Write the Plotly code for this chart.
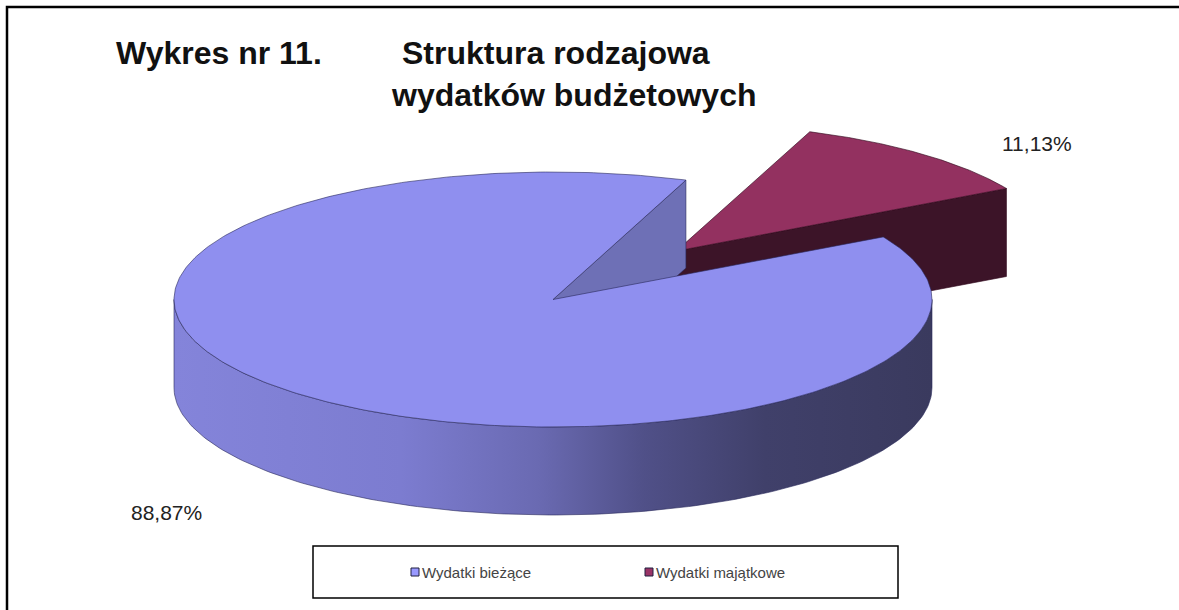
import numpy as np
import plotly.graph_objects as go

# ---------------- data ----------------
categories = ["Wydatki bieżące", "Wydatki majątkowe"]
values = [88.87, 11.13]
label_texts = [f"{v:.2f}".replace(".", ",") + "%" for v in values]

# ---------------- styles / layout ----------------
top_colors = ["#8F8FEF", "#933160"]
radial_colors = ["#6E70B6", "#3C1428"]
side_scales = [
    [[0.0, "#8484DA"], [0.3, "#7C7CD0"], [0.48, "#6A6AB2"], [0.62, "#505088"],
     [0.78, "#40406A"], [1.0, "#3A3A5E"]],
    [[0.0, "#5A1E3A"], [1.0, "#3C1428"]],
]
legend_colors = ["#9999FF", "#993366"]
edge_colors = ["rgba(40,40,90,0.75)", "rgba(50,10,30,0.8)"]

CX, CY = 553.0, 299.5      # centre of top ellipse (pixels)
RX, RY = 379.0, 127.5      # ellipse radii
DEPTH = 88.0               # thickness of the pie
START_DEG = 29.4           # first slice starts here, drawn clockwise
EXPLODE = [0.0, 0.5]

W, H = 1179, 610

fig = go.Figure()


def pt(t, off, r=1.0, h=0.0):
    return (CX + off[0] + RX * r * np.cos(t), CY + off[1] - RY * r * np.sin(t) + h)


total = sum(values)
slices = []
a = np.radians(START_DEG)
for i, v in enumerate(values):
    span = 2 * np.pi * v / total
    t1, t2 = a, a - span
    mid = (t1 + t2) / 2
    off = (EXPLODE[i] * RX * np.cos(mid), -EXPLODE[i] * RY * np.sin(mid))
    slices.append((i, t1, t2, mid, off))
    a = t2

# back to front
slices.sort(key=lambda s: -np.sin(s[3]))

for i, t1, t2, mid, off in slices:
    ec = edge_colors[i]
    # radial faces
    for t, visible in ((t1, np.cos(t1) < 0), (t2, np.cos(t2) > 0)):
        if not visible:
            continue
        p0 = pt(t, off, r=0.0)
        p1 = pt(t, off)
        xs = [p0[0], p1[0], p1[0], p0[0], p0[0]]
        ys = [p0[1], p1[1], p1[1] + DEPTH, p0[1] + DEPTH, p0[1]]
        fig.add_trace(go.Scatter(x=xs, y=ys, mode="lines", fill="toself",
                                 fillcolor=radial_colors[i],
                                 line=dict(color=ec, width=0.8),
                                 hoverinfo="skip", showlegend=False))
    # outer side: visible where sin(t) < 0
    lo, hi = t2, t1
    k = np.floor(lo / (2 * np.pi)) - 1
    segs = []
    while True:
        s0 = -np.pi + 2 * np.pi * k
        s1 = 0.0 + 2 * np.pi * k
        if s0 > hi:
            break
        a0, a1 = max(lo, s0), min(hi, s1)
        if a1 > a0:
            segs.append((a0, a1))
        k += 1
    for a0, a1 in segs:
        tt = np.linspace(a0, a1, 160)
        xt, yt = pt(tt, off)
        xb, yb = pt(tt[::-1], off, h=DEPTH)
        xs = np.concatenate([xt, xb, xt[:1]])
        ys = np.concatenate([yt, yb, yt[:1]])
        fig.add_trace(go.Scatter(x=xs, y=ys, mode="lines", fill="toself",
                                 fillgradient=dict(type="horizontal",
                                                   colorscale=side_scales[i],
                                                   start=CX - RX, stop=CX + RX),
                                 line=dict(color=ec, width=0.8),
                                 hoverinfo="skip", showlegend=False))
    # top face
    tt = np.linspace(t1, t2, 400)
    xa, ya = pt(tt, off)
    c = pt(0.0, off, r=0.0)
    xs = np.concatenate([[c[0]], xa, [c[0]]])
    ys = np.concatenate([[c[1]], ya, [c[1]]])
    fig.add_trace(go.Scatter(x=xs, y=ys, mode="lines", fill="toself",
                             fillcolor=top_colors[i],
                             line=dict(color=ec, width=0.8),
                             name=categories[i], text=label_texts[i],
                             hoverinfo="name+text", showlegend=False))

# percentage labels
label_pos = [(166, 512), (1037, 143)]
for txt, (lx, ly) in zip(label_texts, label_pos):
    fig.add_annotation(x=lx, y=ly, text=txt, showarrow=False,
                       font=dict(family="Liberation Sans, Arial", size=21, color="#222222"),
                       xanchor="center", yanchor="middle")

# titles
title_font = dict(family="Liberation Sans, Arial", size=32, color="#111111")
fig.add_annotation(x=114, y=53, text="<b>Wykres nr 11.</b>", showarrow=False,
                   xanchor="left", yanchor="middle", font=title_font)
fig.add_annotation(x=400, y=53, text="<b>Struktura rodzajowa</b>", showarrow=False,
                   xanchor="left", yanchor="middle", font=title_font)
fig.add_annotation(x=389, y=95, text="<b>wydatków budżetowych</b>", showarrow=False,
                   xanchor="left", yanchor="middle", font=title_font)

# legend (drawn)
shapes = [
    dict(type="rect", xref="x", yref="y", x0=7, y0=7, x1=W + 10, y1=H + 10,
         line=dict(color="black", width=2.5), fillcolor="rgba(0,0,0,0)", layer="below"),
    dict(type="rect", xref="x", yref="y", x0=313, y0=546, x1=898, y1=598,
         line=dict(color="black", width=1.5), fillcolor="white", layer="above"),
]
leg_x = [411, 645]
for i, name in enumerate(categories):
    shapes.append(dict(type="rect", xref="x", yref="y", x0=leg_x[i], y0=568,
                       x1=leg_x[i] + 8, y1=576, fillcolor=legend_colors[i],
                       line=dict(color="#202040", width=1), layer="above"))
    fig.add_annotation(x=leg_x[i] + 9, y=572, text=name, showarrow=False,
                       xanchor="left", yanchor="middle",
                       font=dict(family="Liberation Sans, Arial", size=15, color="#444444"))

fig.update_layout(
    width=W, height=H,
    margin=dict(l=0, r=0, t=0, b=0),
    paper_bgcolor="white", plot_bgcolor="white",
    shapes=shapes,
    xaxis=dict(range=[0, W], visible=False, fixedrange=True),
    yaxis=dict(range=[H, 0], visible=False, fixedrange=True),
    showlegend=False,
)

fig.write_html("out.html", config={"displayModeBar": False},
               post_script="document.body.style.margin='0';")
